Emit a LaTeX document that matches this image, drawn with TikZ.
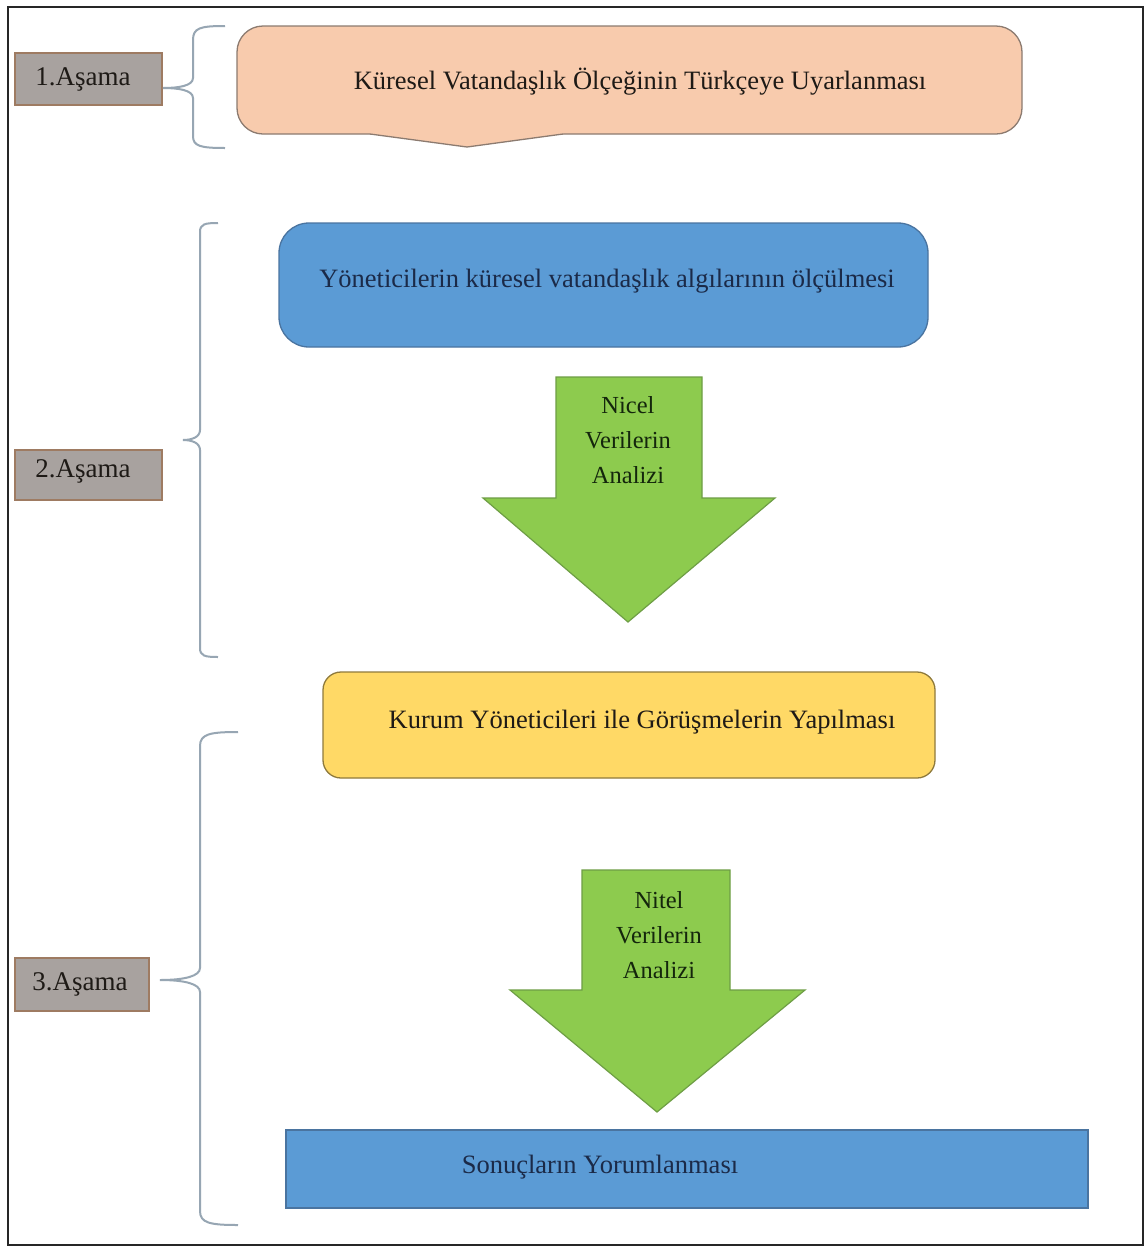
\documentclass[tikz,border=0pt]{standalone}
\usepackage{fontspec}
\setmainfont{Liberation Serif}
\definecolor{stagefill}{HTML}{A8A29F}
\definecolor{stageborder}{HTML}{9E7B62}
\definecolor{bracecol}{HTML}{97A6B3}
\definecolor{callfill}{HTML}{F8CBAD}
\definecolor{callborder}{HTML}{8C7B70}
\definecolor{bluefill}{HTML}{5B9BD5}
\definecolor{blueborder}{HTML}{4A74A0}
\definecolor{yelfill}{HTML}{FFD966}
\definecolor{yelborder}{HTML}{8F7A3C}
\definecolor{grnfill}{HTML}{8DCB4E}
\definecolor{grnborder}{HTML}{6E9E45}
\definecolor{navytext}{HTML}{1B2A48}
\definecolor{darktext}{HTML}{1E1A16}
\definecolor{grntext}{HTML}{14260C}
\begin{document}
\begin{tikzpicture}[x=1pt,y=-1pt,
  stagebox/.style={draw=stageborder, fill=stagefill, line width=1.6pt, inner sep=0pt,
     font=\fontsize{27}{32}\selectfont, text=darktext},
  bracket/.style={draw=bracecol, line width=2pt},
  bigtext/.style={font=\fontsize{26.5}{30}\selectfont, inner sep=0pt},
  arrowtext/.style={font=\fontsize{24.5}{35}\selectfont, align=center, inner sep=0pt, text=grntext},
  arrowshape/.style={fill=grnfill, draw=grnborder, line width=1.2pt, line join=miter}]
\useasboundingbox (0,0) rectangle (1147,1251);
\fill[white] (0,0) rectangle (1147,1251);
\draw[line width=1.8pt, black!85] (8,7) rectangle (1143,1245);

% stage labels
\node[stagebox, minimum width=147pt, minimum height=52pt] (s1) at (88.5,79) {};
\node[font=\fontsize{27}{32}\selectfont, text=darktext, inner sep=0pt] (s1t) at (83,79) {1.Aşama};
\node[stagebox, minimum width=147pt, minimum height=50pt] (s2) at (88.5,475) {};
\node[font=\fontsize{27}{32}\selectfont, text=darktext, inner sep=0pt] (s2t) at (83,471) {2.Aşama};
\node[stagebox, minimum width=134pt, minimum height=53pt] (s3) at (82,984.5) {};
\node[font=\fontsize{27}{32}\selectfont, text=darktext, inner sep=0pt] (s3t) at (80,984) {3.Aşama};

% braces
\draw[bracket] (225,26) .. controls (200,26) and (193,28) .. (193,40) -- (193,78)
   .. controls (193,86) and (178,88) .. (163,88)
   .. controls (178,88) and (193,90) .. (193,98) -- (193,136)
   .. controls (193,146) and (200,148) .. (225,148);
\draw[bracket] (218,223) .. controls (205,223) and (200,224) .. (200,232) -- (200,430)
   .. controls (200,437) and (192,440) .. (183,440)
   .. controls (192,440) and (200,443) .. (200,450) -- (200,648)
   .. controls (200,656) and (205,657) .. (218,657);
\draw[bracket] (238,732) .. controls (210,732) and (200,734) .. (200,746) -- (200,968)
   .. controls (200,976) and (185,980) .. (160,980)
   .. controls (185,980) and (200,984) .. (200,992) -- (200,1211)
   .. controls (200,1223) and (210,1225) .. (238,1225);

% top callout
\node[draw=callborder, fill=callfill, line width=1.3pt, rounded corners=26pt,
      minimum width=785pt, minimum height=108pt, inner sep=0pt] (call) at (629.5,80) {};
\fill[callfill] (370,130) -- (563,130) -- (563,134) -- (467,147) -- (370,134) -- cycle;
\draw[callborder, line width=1.3pt] (370,134) -- (467,147) -- (563,134);
\node[bigtext, text=darktext] (callt) at (640,82) {Küresel Vatandaşlık Ölçeğinin Türkçeye Uyarlanması};

% blue rounded box
\node[draw=blueborder, fill=bluefill, line width=1.3pt, rounded corners=30pt,
      minimum width=649pt, minimum height=124pt, inner sep=0pt] (meas) at (603.5,285) {};
\node[bigtext, text=navytext] (meast) at (607,281) {Yöneticilerin küresel vatandaşlık algılarının ölçülmesi};

% arrow 1
\draw[arrowshape] (556,377) -- (702,377) -- (702,498) -- (775,498) -- (628,622) -- (483,498) -- (556,498) -- cycle;
\node[arrowtext] (a1t) at (628,440) {Nicel\\Verilerin\\Analizi};

% yellow box
\node[draw=yelborder, fill=yelfill, line width=1.3pt, rounded corners=18pt,
      minimum width=612pt, minimum height=106pt, inner sep=0pt] (meet) at (629,725) {};
\node[bigtext, text=darktext] (meett) at (642,722) {Kurum Yöneticileri ile Görüşmelerin Yapılması};

% arrow 2
\draw[arrowshape] (582,870) -- (730,870) -- (730,990) -- (805,990) -- (657,1112) -- (510,990) -- (582,990) -- cycle;
\node[arrowtext] (a2t) at (659,935) {Nitel\\Verilerin\\Analizi};

% bottom box
\node[draw=blueborder, fill=bluefill, line width=1.3pt,
      minimum width=802pt, minimum height=78pt, inner sep=0pt] (res) at (687,1169) {};
\node[bigtext, text=navytext] (rest) at (600,1167) {Sonuçların Yorumlanması};
\end{tikzpicture}
\end{document}
